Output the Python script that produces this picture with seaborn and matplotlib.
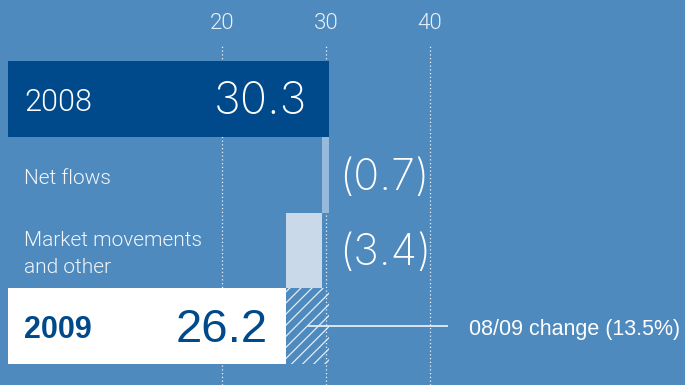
import matplotlib
matplotlib.use("Agg")
import matplotlib.pyplot as plt
import seaborn as sns
import numpy as np

# ---- data ----
categories = ["2008", "Net flows", "Market movements\nand other", "2009"]
start_value = 30.3
changes = [-0.7, -3.4]
end_value = 26.2
change_labels = ["(0.7)", "(3.4)"]
change_pct_label = "08/09 change (13.5%)"
tick_values = [20, 30, 40]

# ---- style ----
BG = "#4e8abe"
DARK = "#004a8c"
NET = "#96badc"
MKT = "#c9d9ea"
TXT = "#f2f6fa"

sns.set_theme(style="white", rc={"axes.facecolor": BG, "figure.facecolor": BG})
plt.rcParams["hatch.linewidth"] = 0.9

fig = plt.figure(figsize=(6.85, 3.85), dpi=100)
ax = fig.add_axes([0, 0, 1, 1 - 46 / 385])
ax.set_facecolor(BG)

xlim = (-1.346, 64.52)
bar_start = -0.58
ax.set_xlim(*xlim)
ax.set_ylim(3.777, -0.698)

rows = np.arange(len(categories))
dy = 0.045  # visual centring of cap-height text

# grid
for t in tick_values:
    ax.axvline(t, color="#e8f0f8", lw=0.9, ls=(0, (1, 2)), zorder=0)

# totals
ax.barh(rows[0], start_value - bar_start, left=bar_start, height=1.0,
        color=DARK, lw=0, zorder=2)
ax.barh(rows[3], end_value - bar_start, left=bar_start, height=1.0,
        color="white", lw=0, zorder=2)

# floating changes
levels = start_value + np.cumsum([0] + changes)
for i, (c, col) in enumerate(zip(changes, [NET, MKT])):
    top = levels[i]
    ax.barh(rows[i + 1], -c, left=top + c, height=1.0, color=col, lw=0, zorder=2)

# hatch for total change
ax.barh(rows[3], start_value - end_value, left=end_value, height=1.0,
        facecolor="none", edgecolor="#e4edf6", hatch="///", lw=0, zorder=2)

# category labels
label_x = bar_start + 1.54
ax.text(label_x, rows[0] + dy, categories[0], color="white", fontsize=22,
        family="Roboto", fontweight=300, va="center", ha="left", zorder=3)
ax.text(label_x, rows[1] + dy, categories[1], color=TXT, fontsize=15,
        family="Roboto", fontweight=300, va="center", ha="left", zorder=3)
ax.text(label_x, rows[2] + dy, categories[2], color=TXT, fontsize=15,
        family="Roboto", fontweight=300, va="center", ha="left",
        linespacing=1.5, zorder=3)
ax.text(label_x, rows[3] + dy, categories[3], color=DARK, fontsize=22,
        fontweight="bold", family="Liberation Sans", va="center", ha="left",
        zorder=3)

# values
ax.text(start_value - 2.13, rows[0] + dy, f"{start_value:.1f}", color="white",
        fontsize=32.5, family="Inter", fontweight=200, va="center", ha="right",
        zorder=3)
ax.text(end_value - 1.78, rows[3] + dy, f"{end_value:.1f}", color=DARK,
        fontsize=34, family="Liberation Sans", va="center", ha="right", zorder=3)
for i, lab in enumerate(change_labels):
    ax.text(start_value + 0.95, rows[i + 1] + dy, lab, color="white",
            fontsize=31, family="Inter", fontweight=200, va="center",
            ha="left", zorder=3)

# change annotation
mid = (end_value + start_value) / 2
ax.plot([mid, 41.7], [rows[3], rows[3]], color="#e4edf6", lw=1.3, zorder=3,
        solid_capstyle="butt")
ax.text(43.75, rows[3] + dy, change_pct_label, color="white", fontsize=15.5,
        family="Liberation Sans", va="center", ha="left", zorder=3)

# axis ticks on top
ax.xaxis.tick_top()
ax.set_xticks(tick_values)
ax.set_xticklabels([str(t) for t in tick_values], fontsize=16, color="#e8f0f8",
                   family="Roboto", fontweight=300)
ax.tick_params(axis="x", length=0, pad=8.5)
ax.set_yticks([])
for s in ax.spines.values():
    s.set_visible(False)

fig.savefig("out.png", dpi=100, facecolor=BG)
